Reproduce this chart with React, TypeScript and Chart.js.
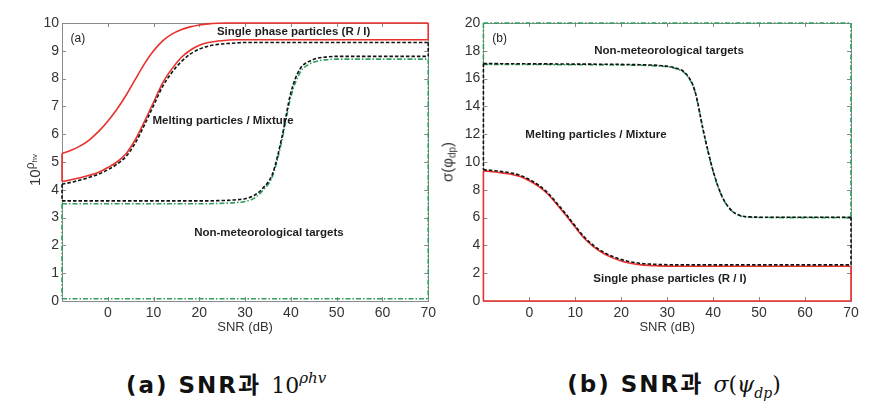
import React, { useEffect, useRef } from 'react';
import { Chart, registerables } from 'chart.js';

Chart.register(...registerables);

// ---------- data ----------
const SNR = [-10, -8, -6, -4, -2, 0, 2, 4, 6, 8, 10, 12, 14, 16, 18, 20, 22, 24, 26, 28, 30, 32, 34, 36, 38, 40, 42, 44, 46, 48, 50, 55, 60, 65, 70];

// (a) 10^rho_hv
const singleUpperA = [5.31, 5.42, 5.58, 5.80, 6.10, 6.47, 6.90, 7.40, 7.97, 8.53, 9.00, 9.36, 9.60, 9.76, 9.86, 9.93, 9.97, 9.99, 10, 10, 10, 10, 10, 10, 10, 10, 10, 10, 10, 10, 10, 10, 10, 10, 10];
const singleLowerA = [4.30, 4.36, 4.43, 4.52, 4.63, 4.80, 5.00, 5.30, 5.80, 6.45, 7.15, 7.85, 8.35, 8.75, 9.02, 9.20, 9.30, 9.35, 9.38, 9.40, 9.40, 9.40, 9.40, 9.40, 9.40, 9.40, 9.40, 9.40, 9.40, 9.40, 9.40, 9.40, 9.40, 9.40, 9.40];
const meltUpperA = [4.20, 4.27, 4.35, 4.45, 4.56, 4.72, 4.92, 5.20, 5.68, 6.33, 7.03, 7.72, 8.22, 8.60, 8.88, 9.06, 9.17, 9.23, 9.26, 9.28, 9.30, 9.30, 9.30, 9.30, 9.30, 9.30, 9.30, 9.30, 9.30, 9.30, 9.30, 9.30, 9.30, 9.30, 9.30];
const meltLowerA = [3.60, 3.60, 3.60, 3.60, 3.60, 3.60, 3.60, 3.60, 3.60, 3.60, 3.60, 3.60, 3.60, 3.60, 3.60, 3.60, 3.60, 3.61, 3.62, 3.64, 3.68, 3.80, 4.08, 4.58, 5.86, 7.50, 8.35, 8.62, 8.74, 8.78, 8.80, 8.80, 8.80, 8.80, 8.80];
const nonMetUpperA = [3.50, 3.50, 3.50, 3.50, 3.50, 3.50, 3.50, 3.50, 3.50, 3.50, 3.50, 3.50, 3.50, 3.50, 3.50, 3.50, 3.50, 3.51, 3.52, 3.54, 3.58, 3.70, 4.00, 4.50, 5.75, 7.35, 8.22, 8.52, 8.64, 8.68, 8.70, 8.70, 8.70, 8.70, 8.70];
const nonMetFloorA = 0.08;

// (b) sigma(psi_dp)
const nonMetCeilB = 20;
const nonMetLowerB = [17.02, 17.02, 17.02, 17.02, 17.01, 17.01, 17.01, 17.01, 17.00, 17.00, 17.00, 17.00, 16.99, 16.99, 16.98, 16.98, 16.97, 16.96, 16.94, 16.91, 16.85, 16.70, 16.33, 15.10, 12.00, 9.30, 7.45, 6.50, 6.12, 6.03, 6.01, 6.00, 6.00, 6.00, 6.00];
const meltUpperB = [17.08, 17.08, 17.07, 17.07, 17.07, 17.06, 17.06, 17.06, 17.05, 17.05, 17.04, 17.04, 17.04, 17.03, 17.03, 17.02, 17.01, 17.00, 16.98, 16.95, 16.89, 16.74, 16.38, 15.15, 12.05, 9.35, 7.48, 6.52, 6.14, 6.05, 6.03, 6.02, 6.02, 6.02, 6.02];
const meltLowerB = [9.45, 9.39, 9.31, 9.21, 9.04, 8.74, 8.34, 7.79, 7.04, 6.24, 5.39, 4.59, 3.99, 3.54, 3.22, 2.98, 2.82, 2.72, 2.66, 2.63, 2.61, 2.60, 2.60, 2.60, 2.60, 2.60, 2.60, 2.60, 2.60, 2.60, 2.60, 2.60, 2.60, 2.60, 2.60];
const singleUpperB = [9.36, 9.30, 9.22, 9.12, 8.95, 8.65, 8.25, 7.70, 6.95, 6.15, 5.30, 4.50, 3.90, 3.45, 3.12, 2.88, 2.72, 2.62, 2.56, 2.53, 2.51, 2.50, 2.50, 2.50, 2.50, 2.50, 2.50, 2.50, 2.50, 2.50, 2.50, 2.50, 2.50, 2.50, 2.50];
const singleFloorB = 0;

// ticks
const xTicks = [-10, 0, 10, 20, 30, 40, 50, 60, 70];
const xTickLabels = ['', '0', '10', '20', '30', '40', '50', '60', '70'];
const yTicksA = [0, 1, 2, 3, 4, 5, 6, 7, 8, 9, 10];
const yTicksB = [0, 2, 4, 6, 8, 10, 12, 14, 16, 18, 20];

// region labels
const labelsA = [
  { text: '(a)', x: -8.15, y: 9.45, bold: false, align: 'left' },
  { text: 'Single phase particles (R / I)', x: 40.6, y: 9.69, bold: true, align: 'center' },
  { text: 'Melting particles / Mixture', x: 25.2, y: 6.49, bold: true, align: 'center' },
  { text: 'Non-meteorological targets', x: 35.2, y: 2.47, bold: true, align: 'center' },
];
const labelsB = [
  { text: '(b)', x: -8.07, y: 18.85, bold: false, align: 'left' },
  { text: 'Non-meteorological targets', x: 30.4, y: 17.99, bold: true, align: 'center' },
  { text: 'Melting particles / Mixture', x: 14.5, y: 11.94, bold: true, align: 'center' },
  { text: 'Single phase particles (R / I)', x: 30.6, y: 1.58, bold: true, align: 'center' },
];

// ---------- styles ----------
const RED = '#e8302c';
const BLACK = '#111111';
const GREEN = '#2f9e5f';
const styleRed = { borderColor: RED, borderWidth: 1.6, borderDash: [] as number[], order: 1 };
const styleBlack = { borderColor: BLACK, borderWidth: 1.6, borderDash: [3.5, 2], order: 0 };
const styleGreen = { borderColor: GREEN, borderWidth: 1.6, borderDash: [5, 2, 1.5, 2], order: 2 };

const X_MIN = SNR[0];
const X_MAX = SNR[SNR.length - 1];

function curve(ys: number[], st: any) {
  return {
    data: SNR.map((x, i) => ({ x, y: ys[i] })),
    ...st,
    pointRadius: 0,
    fill: false,
    cubicInterpolationMode: 'monotone',
    clip: false,
  };
}
function vseg(x: number, y1: number, y2: number, st: any) {
  return { data: [{ x, y: y1 }, { x, y: y2 }], ...st, pointRadius: 0, fill: false, clip: false };
}
function hseg(y: number, st: any) {
  return { data: [{ x: X_MIN, y }, { x: X_MAX, y }], ...st, pointRadius: 0, fill: false, clip: false };
}
const last = (a: number[]) => a[a.length - 1];

const datasetsA = [
  curve(singleUpperA, styleRed),
  curve(singleLowerA, styleRed),
  vseg(X_MAX, last(singleUpperA), last(singleLowerA), styleRed),
  vseg(X_MIN, singleUpperA[0], singleLowerA[0], styleRed),
  curve(meltUpperA, styleBlack),
  curve(meltLowerA, styleBlack),
  vseg(X_MAX, last(meltUpperA), last(meltLowerA), styleBlack),
  vseg(X_MIN, meltUpperA[0], meltLowerA[0], styleBlack),
  curve(nonMetUpperA, styleGreen),
  hseg(nonMetFloorA, styleGreen),
  vseg(X_MAX, last(nonMetUpperA), nonMetFloorA, styleGreen),
  vseg(X_MIN, nonMetUpperA[0], nonMetFloorA, styleGreen),
];

const datasetsB = [
  hseg(nonMetCeilB, styleGreen),
  curve(nonMetLowerB, styleGreen),
  vseg(X_MAX, nonMetCeilB, last(nonMetLowerB), styleGreen),
  vseg(X_MIN, nonMetCeilB, nonMetLowerB[0], styleGreen),
  curve(meltUpperB, styleBlack),
  curve(meltLowerB, styleBlack),
  vseg(X_MAX, last(meltUpperB), last(meltLowerB), styleBlack),
  vseg(X_MIN, meltUpperB[0], meltLowerB[0], styleBlack),
  curve(singleUpperB, styleRed),
  hseg(singleFloorB, styleRed),
  vseg(X_MAX, last(singleUpperB), singleFloorB, styleRed),
  vseg(X_MIN, singleUpperB[0], singleFloorB, styleRed),
];

const FONT = '"Liberation Sans", Arial, sans-serif';

function makePlugins(labels: any[]) {
  return [
    {
      id: 'frameTicks',
      beforeDatasetsDraw(chart: any) {
        const { ctx, chartArea: a, scales } = chart;
        ctx.save();
        ctx.strokeStyle = '#8a8a8a';
        ctx.lineWidth = 1;
        ctx.setLineDash([]);
        ctx.strokeRect(Math.round(a.left) + 0.5, Math.round(a.top) + 0.5, Math.round(a.right - a.left), Math.round(a.bottom - a.top));
        ctx.beginPath();
        const L = 4;
        scales.x.ticks.forEach((t: any) => {
          const px = Math.round(scales.x.getPixelForValue(t.value)) + 0.5;
          ctx.moveTo(px, a.bottom); ctx.lineTo(px, a.bottom - L);
          ctx.moveTo(px, a.top); ctx.lineTo(px, a.top + L);
        });
        scales.y.ticks.forEach((t: any) => {
          const py = Math.round(scales.y.getPixelForValue(t.value)) + 0.5;
          ctx.moveTo(a.left, py); ctx.lineTo(a.left + L, py);
          ctx.moveTo(a.right, py); ctx.lineTo(a.right - L, py);
        });
        ctx.stroke();
        ctx.restore();
      },
      afterDatasetsDraw(chart: any) {
        const { ctx, scales } = chart;
        ctx.save();
        ctx.fillStyle = '#1e1e1e';
        ctx.textBaseline = 'middle';
        labels.forEach((l) => {
          ctx.font = l.bold ? `bold 11.5px ${FONT}` : `12px ${FONT}`;
          ctx.textAlign = l.align;
          ctx.fillText(l.text, scales.x.getPixelForValue(l.x), scales.y.getPixelForValue(l.y));
        });
        ctx.restore();
      },
    },
  ];
}

function makeConfig(datasets: any[], yTicks: number[], yAxisWidth: number, padRight: number, labels: any[]) {
  return {
    type: 'line',
    data: { datasets },
    plugins: makePlugins(labels),
    options: {
      animation: false,
      responsive: false,
      maintainAspectRatio: false,
      layout: { padding: { top: 23, right: padRight, left: 0, bottom: 0 } },
      plugins: { legend: { display: false }, tooltip: { enabled: false } },
      scales: {
        x: {
          type: 'linear',
          min: X_MIN,
          max: X_MAX,
          afterBuildTicks: (s: any) => { s.ticks = xTicks.map((v) => ({ value: v })); },
          afterFit: (s: any) => { s.height = 44; },
          ticks: {
            autoSkip: false,
            maxRotation: 0,
            padding: 4,
            color: '#333',
            font: { family: FONT, size: 14 },
            callback: (v: number) => xTickLabels[xTicks.indexOf(v)] ?? '',
          },
          grid: { display: false, drawTicks: false },
          border: { display: false },
          title: { display: true, text: 'SNR (dB)', color: '#333', font: { family: FONT, size: 13 }, padding: { top: 0, bottom: 10 } },
        },
        y: {
          type: 'linear',
          min: yTicks[0],
          max: yTicks[yTicks.length - 1],
          afterBuildTicks: (s: any) => { s.ticks = yTicks.map((v) => ({ value: v })); },
          afterFit: (s: any) => { s.width = yAxisWidth; },
          ticks: { autoSkip: false, padding: 3, color: '#333', font: { family: FONT, size: 14 } },
          grid: { display: false, drawTicks: false },
          border: { display: false },
        },
      },
    },
  };
}

function ChartCanvas({ config, width, height }: { config: any; width: number; height: number }) {
  const ref = useRef<HTMLCanvasElement | null>(null);
  useEffect(() => {
    if (!ref.current) return;
    const ch = new Chart(ref.current, config);
    return () => ch.destroy();
  }, [config]);
  return <canvas ref={ref} width={width} height={height} style={{ display: 'block', width, height }} />;
}

const configA = makeConfig(datasetsA, yTicksA, 62, 11, labelsA);
const configB = makeConfig(datasetsB, yTicksB, 43.4, 28, labelsB);

const captionStyle: React.CSSProperties = {
  position: 'absolute',
  top: 383,
  transform: 'translate(-50%, -50%)',
  fontFamily: '"DejaVu Sans", "Noto Sans CJK KR", sans-serif',
  fontWeight: 'bold',
  fontSize: 23,
  letterSpacing: 2,
  whiteSpace: 'nowrap',
  color: '#111',
};
const mathStyle: React.CSSProperties = {
  fontFamily: '"DejaVu Serif", "Liberation Serif", serif',
  fontWeight: 'normal',
  letterSpacing: 0,
  fontSize: 22,
};

export default function App() {
  useEffect(() => {
    document.body.style.margin = '0';
  }, []);
  return (
    <div style={{ position: 'relative', width: 879, height: 410, background: '#fff', overflow: 'hidden' }}>
      <div style={{ position: 'absolute', left: 0, top: 0 }}>
        <ChartCanvas config={configA} width={440} height={345} />
      </div>
      <div style={{ position: 'absolute', left: 440, top: 0 }}>
        <ChartCanvas config={configB} width={439} height={345} />
      </div>
      <div
        style={{
          position: 'absolute', left: 33, top: 170, transform: 'translate(-50%, -50%) rotate(-90deg)',
          fontFamily: FONT, fontSize: 15, color: '#333', whiteSpace: 'nowrap',
        }}
      >
        10<span style={{ fontSize: 12, verticalAlign: 6 }}>ρ<span style={{ fontSize: 8, verticalAlign: -3 }}>hv</span></span>
      </div>
      <div
        style={{
          position: 'absolute', left: 448, top: 162, transform: 'translate(-50%, -50%) rotate(-90deg)',
          fontFamily: FONT, fontSize: 15, color: '#333', whiteSpace: 'nowrap',
        }}
      >
        σ(φ<span style={{ fontSize: 10, verticalAlign: -3 }}>dp</span>)
      </div>
      <div style={{ ...captionStyle, left: 226 }}>
        (a) SNR과{' '}
        <span style={mathStyle}>
          10<span style={{ fontStyle: 'italic', fontSize: 15, verticalAlign: 10 }}>ρhv</span>
        </span>
      </div>
      <div style={{ ...captionStyle, left: 674 }}>
        (b) SNR과{' '}
        <span style={mathStyle}>
          <i>σ</i>(<i>ψ</i><span style={{ fontStyle: 'italic', fontSize: 14, verticalAlign: -6 }}>dp</span>)
        </span>
      </div>
    </div>
  );
}
